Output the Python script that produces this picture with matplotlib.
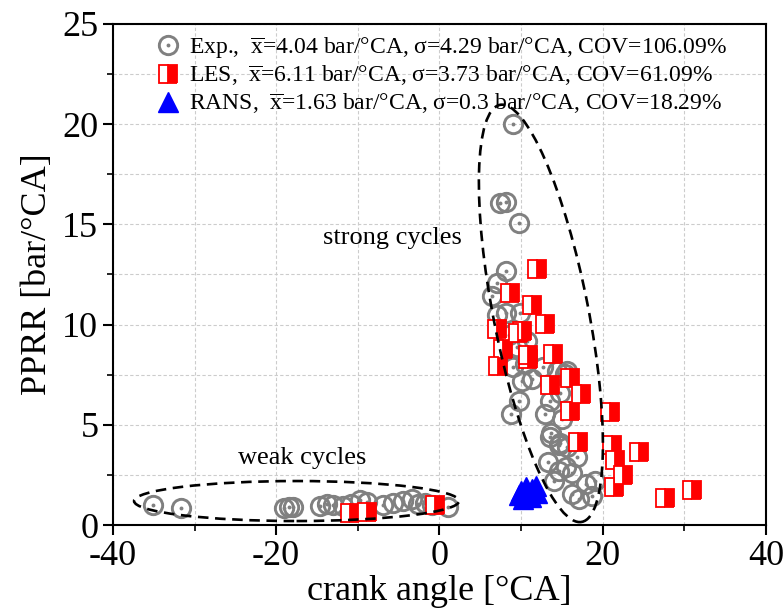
import numpy as np
import matplotlib
matplotlib.use("Agg")
import matplotlib.pyplot as plt
import matplotlib.transforms as mtransforms
from matplotlib.patches import Ellipse
from matplotlib.ticker import MultipleLocator

plt.rcParams['font.family'] = ['Liberation Serif', 'DejaVu Serif']
plt.rcParams['mathtext.fontset'] = 'custom'
plt.rcParams['mathtext.rm'] = 'Liberation Serif'
plt.rcParams['mathtext.it'] = 'Liberation Serif:italic'
plt.rcParams['axes.unicode_minus'] = False

# Experiment (crank angle, PPRR)
exp_ca = [-35.1, -31.6, -19.1, -18.4, -17.9, -14.6, -13.8, -13.0, -11.8, -10.8,
          -9.7, -8.9, -6.9, -5.7, -4.5, -3.4, -2.6, -1.8, -0.9, 1.0,
          9.0, 7.4, 8.2, 9.7, 8.2, 7.1, 6.4, 7.0, 8.2, 9.9,
          10.7, 8.5, 9.5, 9.0, 10.5, 10.1, 11.3, 12.7, 14.4, 15.6,
          15.4, 9.7, 13.5, 14.8, 8.8, 12.9, 15.0, 13.7, 13.5, 14.6,
          15.6, 14.8, 13.3, 14.6, 14.0, 16.2, 16.2, 17.1, 18.0, 19.0,
          18.7, 15.5, 16.8]
exp_pprr = [1.0, 0.83, 0.85, 0.9, 0.88, 0.95, 1.05, 1.0, 0.95, 1.05,
            1.25, 1.15, 1.0, 1.1, 1.2, 1.3, 1.05, 1.1, 1.0, 0.9,
            20.0, 16.05, 16.1, 15.05, 12.65, 12.1, 11.45, 10.5, 10.6, 10.6,
            9.2, 9.5, 8.9, 7.9, 8.05, 7.2, 7.3, 7.9, 7.7, 7.7,
            7.55, 6.2, 6.2, 6.6, 5.55, 5.55, 5.3, 4.6, 4.4, 4.0,
            3.9, 4.1, 3.15, 2.7, 2.2, 2.6, 1.55, 1.3, 2.05, 2.2,
            1.45, 2.9, 3.4]

# LES
les_ca = [-11.0, -8.9, -0.55, 11.9, 8.6, 11.4, 12.9, 7.1, 10.1, 9.6,
          7.8, 10.9, 10.8, 13.9, 7.2, 13.5, 16.0, 17.4, 16.0, 20.9,
          17.0, 21.2, 21.5, 22.5, 21.4, 24.4, 27.6, 30.9]
les_pprr = [0.6, 0.66, 1.0, 12.75, 11.6, 11.0, 10.05, 9.8, 9.7, 9.6,
            8.8, 8.3, 8.5, 8.55, 7.95, 7.0, 7.35, 6.55, 5.7, 5.65,
            4.15, 4.0, 3.25, 2.5, 1.9, 3.65, 1.33, 1.74]

# RANS
rans_ca = [10.0, 10.3, 10.6, 11.0, 11.4, 11.8, 10.2, 11.2, 9.8, 12.0]
rans_pprr = [1.7, 1.5, 1.9, 1.6, 1.8, 1.95, 1.3, 1.4, 1.5, 1.6]

labels = [r'Exp.,  $\overline{\mathrm{x}}$=4.04 bar/°CA, σ=4.29 bar/°CA, COV=106.09%',
          r'LES,  $\overline{\mathrm{x}}$=6.11 bar/°CA, σ=3.73 bar/°CA, COV=61.09%',
          r'RANS,  $\overline{\mathrm{x}}$=1.63 bar/°CA, σ=0.3 bar/°CA, COV=18.29%']

fig = plt.figure(figsize=(7.84, 6.12), dpi=100)
ax = fig.add_axes([0.144, 0.142, 0.833, 0.819])

gray = '#808080'
h_circ, = ax.plot(exp_ca, exp_pprr, 'o', ms=13.2, mfc='none', mec=gray, mew=2.1, zorder=3)
h_dot, = ax.plot(exp_ca, exp_pprr, 'o', ms=2.8, mfc=gray, mec=gray, mew=0, zorder=3)
h_rans, = ax.plot(rans_ca, rans_pprr, '^', ms=14, color='blue', mec='blue', zorder=4)
h_les, = ax.plot(les_ca, les_pprr, 's', ms=12.6, fillstyle='right', mfc='red',
                 mfcalt='white', mec='red', mew=1.3, zorder=5)

# dashed ellipses, sized in pixels around a data-space centre
def dashed_ellipse(cx, cy, w_px, h_px, angle):
    tr = mtransforms.ScaledTranslation(cx, cy, ax.transData)
    e = Ellipse((0, 0), w_px, h_px, angle=angle, transform=tr, fill=False,
                ec='black', lw=1.9, ls=(0, (4, 2.5)), zorder=6, clip_on=False)
    ax.add_patch(e)

dashed_ellipse(12.43, 10.56, 95, 425, 11.1)
dashed_ellipse(-17.5, 1.2, 325, 40, 0)

ax.text(-5.8, 14.3, 'strong cycles', fontsize=19, ha='center', va='center')
ax.text(-16.8, 3.35, 'weak cycles', fontsize=19, ha='center', va='center')

ax.set_xlim(-40, 40)
ax.set_ylim(0, 25)
ax.xaxis.set_major_locator(MultipleLocator(20))
ax.xaxis.set_minor_locator(MultipleLocator(10))
ax.yaxis.set_major_locator(MultipleLocator(5))
ax.yaxis.set_minor_locator(MultipleLocator(2.5))
ax.grid(True, which='both', color='#cccccc', ls=(0, (3, 2)), lw=0.8)
ax.set_axisbelow(True)
ax.tick_params(which='major', direction='out', length=7, width=1.5, labelsize=26)
ax.tick_params(which='minor', direction='out', length=4, width=1.2)
for sp in ax.spines.values():
    sp.set_linewidth(1.5)

ax.set_xlabel('crank angle [°CA]', fontsize=26, labelpad=2)
ax.set_ylabel('PPRR [bar/°CA]', fontsize=26, labelpad=6)

ax.legend([(h_circ, h_dot), h_les, h_rans], labels, loc='upper left',
          bbox_to_anchor=(0.063, 0.978), frameon=False, fontsize=17,
          handlelength=1.2, handletextpad=0.3, labelspacing=0.12,
          borderpad=0, borderaxespad=0)

plt.savefig('out.png', dpi=100)
